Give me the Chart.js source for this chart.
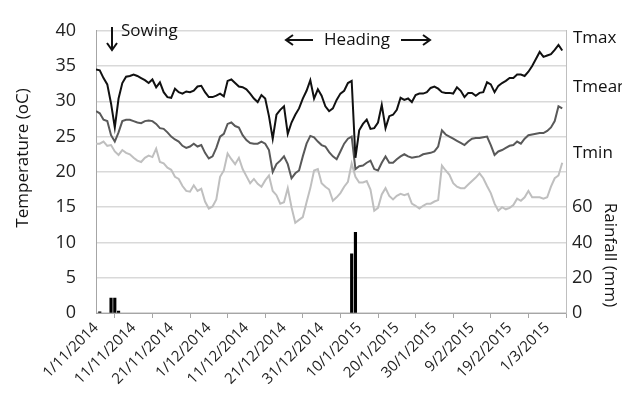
<!DOCTYPE html>
<html>
<head>
<meta charset="utf-8">
<script src="https://cdn.jsdelivr.net/npm/chart.js@4.4.0/dist/chart.umd.min.js"></script>
<style>
  html, body { margin: 0; padding: 0; background: #fff; }
</style>
</head>
<body>
<canvas id="chart" width="622" height="397"></canvas>
<script>
// tick labels, one every 10 days from 1/11/2014
const dateLabels = ['1/11/2014', '11/11/2014', '21/11/2014', '1/12/2014', '11/12/2014',
  '21/12/2014', '31/12/2014', '10/1/2015', '20/1/2015', '30/1/2015', '9/2/2015',
  '19/2/2015', '1/3/2015'];

// daily temperatures (oC), day 0 = 1/11/2014
const tmax = [34.5, 34.4, 33.3, 32.4, 29.7, 26.3, 30.4, 32.6, 33.5, 33.6,
  33.8, 33.6, 33.3, 33.0, 32.6, 33.1, 32.0, 32.7, 31.3, 30.6,
  30.5, 31.8, 31.3, 31.1, 31.4, 31.3, 31.5, 32.1, 32.2, 31.3,
  30.6, 30.6, 30.8, 31.1, 30.7, 32.9, 33.1, 32.6, 32.1, 32.0,
  31.7, 31.1, 30.4, 29.9, 30.9, 30.4, 27.9, 24.7, 28.1, 28.8,
  29.3, 25.4, 27.0, 28.1, 29.0, 30.4, 31.5, 33.0, 30.4, 31.7,
  30.8, 29.3, 28.6, 29.0, 30.2, 31.1, 31.5, 32.6, 32.9, 22.0,
  25.9, 26.8, 27.4, 26.1, 26.2, 27.0, 29.5, 26.2, 27.9, 28.1,
  28.8, 30.5, 30.2, 30.4, 29.9, 30.9, 31.1, 31.1, 31.3, 31.9,
  32.1, 31.8, 31.3, 31.2, 31.2, 31.1, 32.0, 31.5, 30.6, 31.2,
  31.2, 30.8, 31.2, 31.3, 32.7, 32.4, 31.3, 32.2, 32.6, 32.9,
  33.3, 33.3, 33.8, 33.8, 33.6, 34.2, 35.0, 36.0, 37.0, 36.3,
  36.5, 36.7, 37.3, 38.0, 37.2];
const tmean = [28.6, 28.3, 27.4, 27.2, 25.2, 24.3, 25.6, 27.2, 27.4, 27.4,
  27.2, 27.0, 26.9, 27.2, 27.3, 27.2, 26.8, 26.2, 26.1, 25.6,
  25.0, 24.6, 24.3, 23.7, 23.4, 23.6, 24.0, 23.6, 23.8, 22.7,
  21.9, 22.2, 23.4, 25.0, 25.4, 26.8, 27.0, 26.5, 26.3, 25.2,
  24.5, 24.1, 24.0, 24.0, 24.3, 24.0, 23.1, 20.0, 21.1, 21.6,
  22.2, 21.1, 19.1, 19.8, 20.2, 22.2, 24.0, 25.1, 24.9, 24.3,
  23.8, 23.6, 22.8, 22.2, 21.8, 22.9, 24.0, 24.7, 25.0, 20.4,
  20.8, 20.9, 21.3, 21.6, 20.4, 20.2, 21.3, 22.2, 21.3, 21.3,
  21.8, 22.2, 22.5, 22.2, 22.0, 22.1, 22.2, 22.5, 22.6, 22.7,
  22.9, 23.6, 25.9, 25.3, 25.0, 24.7, 24.4, 24.1, 23.8, 24.3,
  24.7, 24.8, 24.8, 24.9, 25.0, 23.8, 22.4, 22.9, 23.1, 23.4,
  23.7, 23.8, 24.3, 24.0, 24.7, 25.2, 25.3, 25.4, 25.5, 25.5,
  25.8, 26.3, 27.2, 29.3, 29.0];
const tmin = [24.0, 24.0, 24.3, 23.7, 23.8, 22.9, 22.4, 23.1, 22.7, 22.5,
  22.0, 21.6, 21.4, 22.0, 22.3, 22.1, 23.3, 21.4, 21.2, 20.6,
  20.3, 19.3, 19.0, 18.0, 17.3, 17.2, 18.1, 17.3, 17.6, 15.8,
  14.8, 15.1, 16.1, 19.3, 20.2, 22.6, 21.8, 21.1, 22.0, 20.4,
  19.4, 18.4, 19.0, 18.3, 17.9, 18.8, 19.5, 17.3, 16.7, 15.5,
  15.7, 17.7, 15.0, 12.8, 13.2, 13.6, 15.7, 17.7, 20.2, 20.4,
  18.4, 17.9, 17.5, 15.9, 16.4, 17.0, 17.9, 18.6, 21.2, 19.3,
  18.5, 18.5, 18.7, 17.5, 14.5, 14.9, 16.8, 17.7, 16.6, 16.1,
  16.6, 16.9, 16.7, 16.9, 15.5, 15.2, 14.8, 15.2, 15.5, 15.5,
  15.8, 16.0, 20.9, 20.2, 19.6, 18.4, 17.9, 17.7, 17.7, 18.2,
  18.7, 19.2, 19.8, 19.1, 18.0, 17.0, 15.5, 14.5, 15.0, 14.7,
  14.9, 15.3, 16.2, 15.9, 16.4, 17.3, 16.4, 16.4, 16.4, 16.2,
  16.4, 17.9, 19.1, 19.5, 21.3];

// rainfall events (mm)
const rainDays = [1, 4, 5, 6, 68, 69];
const rainMm = [0.7, 8.4, 8.4, 1.1, 33.5, 45.7];

const FONT = '"Open Sans", "DejaVu Sans", sans-serif';
const toPoints = arr => arr.map((v, i) => ({ x: i, y: v }));

const annotate = {
  id: 'annotate',
  afterDraw(chart) {
    const ctx = chart.ctx;
    ctx.save();
    ctx.fillStyle = '#111';
    ctx.strokeStyle = '#111';
    ctx.lineWidth = 2;
    ctx.textBaseline = 'middle';
    ctx.font = '17px ' + FONT;

    // sowing / heading notes
    ctx.textAlign = 'left';
    ctx.fillText('Sowing', 121, 31);
    ctx.textAlign = 'center';
    ctx.fillText('Heading', 357, 40);
    ctx.beginPath();
    ctx.moveTo(112, 27); ctx.lineTo(112, 50);
    ctx.moveTo(107, 43); ctx.lineTo(112, 50); ctx.lineTo(117, 43);
    ctx.moveTo(313, 40); ctx.lineTo(286, 40);
    ctx.moveTo(293, 35); ctx.lineTo(286, 40); ctx.lineTo(293, 45);
    ctx.moveTo(401, 40); ctx.lineTo(430, 40);
    ctx.moveTo(423, 35); ctx.lineTo(430, 40); ctx.lineTo(423, 45);
    ctx.stroke();

    // series names on the right
    ctx.textAlign = 'left';
    ctx.fillText('Tmax', 573, 38);
    ctx.fillText('Tmean', 573, 87);
    ctx.fillText('Tmin', 573, 153);

    // axis titles
    ctx.textAlign = 'center';
    ctx.save();
    ctx.translate(23, 158);
    ctx.rotate(-Math.PI / 2);
    ctx.fillText('Temperature (oC)', 0, 0);
    ctx.restore();
    ctx.save();
    ctx.translate(610, 255);
    ctx.rotate(Math.PI / 2);
    ctx.fillText('Rainfall (mm)', 0, 0);
    ctx.restore();
    ctx.restore();
  }
};

new Chart(document.getElementById('chart'), {
  type: 'bar',
  data: {
    datasets: [
      { type: 'line', label: 'Tmax', data: toPoints(tmax), borderColor: '#111', borderWidth: 2,
        pointRadius: 0, tension: 0, yAxisID: 'y' },
      { type: 'line', label: 'Tmean', data: toPoints(tmean), borderColor: '#595959', borderWidth: 2,
        pointRadius: 0, tension: 0, yAxisID: 'y' },
      { type: 'line', label: 'Tmin', data: toPoints(tmin), borderColor: '#bfbfbf', borderWidth: 2,
        pointRadius: 0, tension: 0, yAxisID: 'y' },
      { type: 'bar', label: 'Rainfall', data: rainDays.map((d, i) => ({ x: d, y: rainMm[i] })),
        backgroundColor: '#000', barThickness: 2.5, yAxisID: 'y2' }
    ]
  },
  options: {
    responsive: false,
    animation: false,
    layout: { padding: { top: 20, left: 0, right: 0, bottom: 0 } },
    plugins: { legend: { display: false }, tooltip: { enabled: false } },
    scales: {
      x: {
        type: 'linear', min: 0, max: 125, offset: false,
        afterFit: s => { s.height = 84; },
        afterBuildTicks: s => { s.ticks = dateLabels.map((_, i) => ({ value: i * 10 })); },
        ticks: {
          autoSkip: false, minRotation: 45, maxRotation: 45, padding: 1,
          color: '#222', font: { family: FONT, size: 15 },
          callback: v => dateLabels[v / 10]
        },
        grid: { drawOnChartArea: false, drawTicks: true, tickLength: 5, color: '#a6a6a6' },
        border: { display: true, color: '#a6a6a6', width: 1 }
      },
      y: {
        position: 'left', min: 0, max: 40,
        afterFit: s => { s.width = 96; },
        ticks: { stepSize: 5, padding: 20, color: '#222', font: { family: FONT, size: 18 } },
        grid: { color: '#d9d9d9', lineWidth: 1.5, drawTicks: false },
        border: { display: true, color: '#a6a6a6', width: 1 }
      },
      y2: {
        position: 'right', min: 0, max: 160,
        afterFit: s => { s.width = 56; },
        afterBuildTicks: s => { s.ticks = s.ticks.filter(t => t.value <= 60); },
        ticks: { stepSize: 20, padding: 6, color: '#222', font: { family: FONT, size: 18 } },
        grid: { drawOnChartArea: false, drawTicks: false },
        border: { display: true, color: '#bfbfbf', width: 1 }
      }
    }
  },
  plugins: [annotate]
});
</script>
</body>
</html>
